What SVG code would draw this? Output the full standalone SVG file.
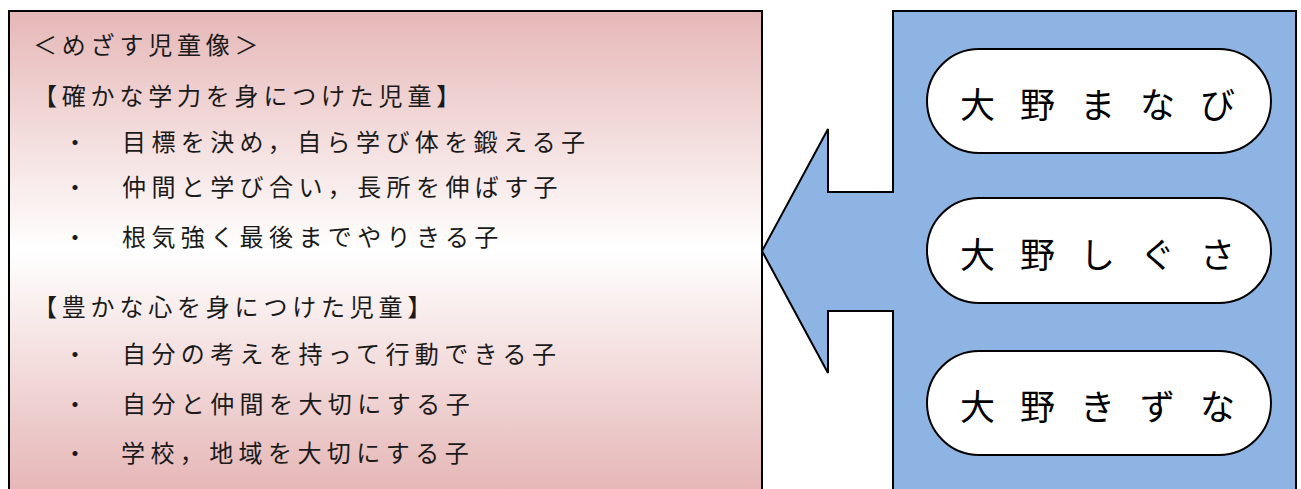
<svg xmlns="http://www.w3.org/2000/svg" width="1301" height="489" viewBox="0 0 1301 489">
<style>
.body{font-family:"Noto Sans CJK JP","Noto Sans CJK SC",sans-serif;font-size:24px;fill:#1a1a1a;letter-spacing:4.8px}
.item{letter-spacing:5.4px}
.pilltext{font-family:"Noto Sans CJK JP","Noto Sans CJK SC",sans-serif;font-size:35px;fill:#000}
.pill{fill:#ffffff;stroke:#000;stroke-width:2}
</style>
<defs>
<linearGradient id="pinkGrad" gradientUnits="userSpaceOnUse" x1="0" y1="11" x2="0" y2="489">
<stop offset="0" stop-color="#e6b7b7"/>
<stop offset="0.5" stop-color="#ffffff"/>
<stop offset="1" stop-color="#e6b7b7"/>
</linearGradient>
</defs>
<rect width="1301" height="489" fill="#ffffff"/>
<g id="goal-box">
<rect x="9" y="11" width="753" height="500" fill="url(#pinkGrad)" stroke="#000" stroke-width="2"/>
<text class="body" x="33" y="54">＜めざす児童像＞</text>
<text class="body" x="33" y="105">【確かな学力を身につけた児童】</text>
<text class="body" x="63" y="151">・</text>
<text class="body item" x="122" y="151">目標を決め，自ら学び体を鍛える子</text>
<text class="body" x="63" y="196">・</text>
<text class="body item" x="122" y="196">仲間と学び合い，長所を伸ばす子</text>
<text class="body" x="63" y="246">・</text>
<text class="body item" x="122" y="246">根気強く最後までやりきる子</text>
<text class="body" x="33" y="316">【豊かな心を身につけた児童】</text>
<text class="body" x="63" y="363">・</text>
<text class="body item" x="122" y="363">自分の考えを持って行動できる子</text>
<text class="body" x="63" y="413">・</text>
<text class="body item" x="122" y="413">自分と仲間を大切にする子</text>
<text class="body" x="63" y="462">・</text>
<text class="body item" x="121" y="462">学校，地域を大切にする子</text>
</g>
<g id="connectors">
<path id="callout-arrow" d="M893 11 L1296 11 L1296 500 L893 500 L893 311 L828 311 L828 373 L762 251 L828 129 L828 192 L893 192 Z" fill="#8eb4e3" stroke="#000" stroke-width="2" stroke-linejoin="miter"/>
</g>
<g id="pill-manabi">
<rect class="pill" x="927" y="49" width="344" height="104" rx="52"/>
<text class="pilltext" x="960 1020 1080 1140 1200" y="118">大野まなび</text>
</g>
<g id="pill-shigusa">
<rect class="pill" x="927" y="198" width="344" height="105" rx="52"/>
<text class="pilltext" x="960 1020 1080 1140 1200" y="268">大野しぐさ</text>
</g>
<g id="pill-kizuna">
<rect class="pill" x="927" y="351" width="344" height="104" rx="52"/>
<text class="pilltext" x="960 1020 1080 1140 1200" y="420">大野きずな</text>
</g>
</svg>
